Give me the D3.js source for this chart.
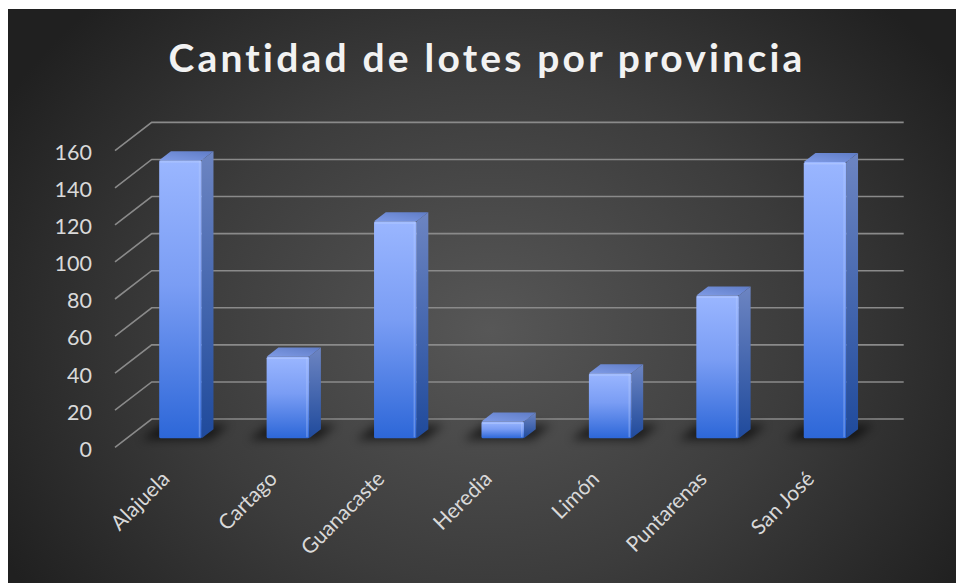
<!DOCTYPE html>
<html>
<head>
<meta charset="utf-8">
<script src="https://cdn.jsdelivr.net/npm/d3@7/dist/d3.min.js"></script>
<style>
  html, body { margin: 0; padding: 0; background: #ffffff; }
  svg { display: block; }
</style>
</head>
<body>
<svg id="chart" width="956" height="583"></svg>
<script>
// Lots per province
const provinces = ["Alajuela", "Cartago", "Guanacaste", "Heredia", "Limón", "Puntarenas", "San José"];
const lots = [150, 44, 117, 9, 35, 77, 149];
const yTicks = [0, 20, 40, 60, 80, 100, 120, 140, 160];
const chartTitle = "Cantidad de lotes por provincia";

const W = 956, H = 583;
const svg = d3.select("#chart");
const defs = svg.append("defs");

// ---- background panel with radial shading
const bg = defs.append("radialGradient").attr("id", "bgGrad")
  .attr("gradientUnits", "userSpaceOnUse")
  .attr("cx", 490).attr("cy", 330).attr("r", 560)
  .attr("gradientTransform", "translate(490,330) scale(1,0.82) translate(-490,-330)");
bg.append("stop").attr("offset", 0).attr("stop-color", "#575757");
bg.append("stop").attr("offset", 0.55).attr("stop-color", "#3c3c3c");
bg.append("stop").attr("offset", 1).attr("stop-color", "#202020");
svg.append("rect").attr("x", 8).attr("y", 9).attr("width", W - 8).attr("height", H - 9)
  .attr("fill", "url(#bgGrad)");

// ---- bar face gradients
function vGrad(id, stops) {
  const g = defs.append("linearGradient").attr("id", id)
    .attr("x1", 0).attr("y1", 0).attr("x2", 0).attr("y2", 1);
  stops.forEach(([o, c]) => g.append("stop").attr("offset", o).attr("stop-color", c));
}
vGrad("frontGrad", [[0, "#9ab6ff"], [0.45, "#7a9df4"], [1, "#2d67d8"]]);
vGrad("sideGrad", [[0, "#6d85c2"], [1, "#1f4a9c"]]);
const topGrad = defs.append("linearGradient").attr("id", "topGrad")
  .attr("x1", 0).attr("y1", 1).attr("x2", 1).attr("y2", 0);
topGrad.append("stop").attr("offset", 0).attr("stop-color", "#7f9be6");
topGrad.append("stop").attr("offset", 1).attr("stop-color", "#5f7cc6");

defs.append("filter").attr("id", "shadowBlur")
  .attr("x", "-50%").attr("y", "-100%").attr("width", "200%").attr("height", "300%")
  .append("feGaussianBlur").attr("stdDeviation", 5);

// ---- oblique 3D projection: front plane scales plus a depth offset
const frontLeft = 115, frontRight = 867;
const depthDX = 36.7, depthDY = -28.3;

const x = d3.scaleBand().domain(provinces).range([frontLeft, frontRight]).padding(0);
const y = d3.scaleLinear().domain([0, 160]).range([447.3, 150.7]);

const proj = (px, value, z) => [px + z * depthDX, y(value) + z * depthDY];
const poly = pts => "M" + pts.map(p => p.join(",")).join("L") + "Z";

// ---- gridlines: back wall horizontals and side diagonals
const grid = svg.append("g").attr("stroke", "#8a8a8a").attr("stroke-width", 1.6).attr("fill", "none");
yTicks.forEach(t => {
  const a = proj(frontLeft, t, 0), b = proj(frontLeft, t, 1), c = proj(frontRight, t, 1);
  grid.append("path").attr("d", `M${a}L${b}L${c}`);
});

// ---- y axis labels
const yAxis = d3.axisLeft(y).tickValues(yTicks).tickSize(0).tickPadding(0);
svg.append("g").attr("transform", "translate(92,2)").call(yAxis)
  .call(g => g.select(".domain").remove())
  .selectAll("text")
  .attr("fill", "#d9d9d9").attr("font-family", "Lato, 'Open Sans', sans-serif").attr("font-size", 21.5);

// ---- bars
const barFrac = 0.396, z0 = 0.32, z1 = 0.64;
const bars = svg.append("g");
provinces.forEach((p, i) => {
  const v = lots[i];
  const bw = x.bandwidth() * barFrac;
  const xl = x(p) + (x.bandwidth() - bw) / 2, xr = xl + bw;
  const g = bars.append("g");

  // soft shadow on the floor
  g.append("path")
    .attr("d", poly([proj(xl - 16, 0, z0 - 0.05), proj(xr + 10, 0, z0 - 0.05),
                     proj(xr + 10, 0, z1 + 0.15), proj(xl - 16, 0, z1 + 0.15)]))
    .attr("fill", "#000").attr("opacity", 0.6).attr("filter", "url(#shadowBlur)");

  // side face
  g.append("path")
    .attr("d", poly([proj(xr, 0, z0), proj(xr, 0, z1), proj(xr, v, z1), proj(xr, v, z0)]))
    .attr("fill", "url(#sideGrad)");
  // top face
  g.append("path")
    .attr("d", poly([proj(xl, v, z0), proj(xr, v, z0), proj(xr, v, z1), proj(xl, v, z1)]))
    .attr("fill", "url(#topGrad)");
  // front face
  const [fx0, fy0] = proj(xl, v, z0);
  const [fx1, fy1] = proj(xr, 0, z0);
  g.append("rect").attr("x", fx0).attr("y", fy0).attr("width", fx1 - fx0).attr("height", fy1 - fy0)
    .attr("rx", 1.5).attr("fill", "url(#frontGrad)");
  // bevel highlight along the front edges
  g.append("rect").attr("x", fx1 - 3).attr("y", fy0 + 1).attr("width", 1.6).attr("height", Math.max(0, fy1 - fy0 - 2))
    .attr("fill", "#b9cdff").attr("opacity", 0.35);
  g.append("rect").attr("x", fx0 + 1).attr("y", fy0 + 1).attr("width", fx1 - fx0 - 2).attr("height", 1.4)
    .attr("fill", "#c4d4ff").attr("opacity", 0.4);
});

// ---- category labels
const xAxis = d3.axisBottom(x).tickSize(0).tickPadding(0);
svg.append("g").call(xAxis)
  .call(g => g.select(".domain").remove())
  .call(g => g.selectAll(".tick").attr("transform", d => `translate(${x(d) + x.bandwidth() / 2 - 3},475)`))
  .selectAll("text")
  .attr("fill", "#d9d9d9").attr("font-family", "Lato, 'Open Sans', sans-serif").attr("font-size", 21)
  .attr("text-anchor", "end").attr("dy", "0.35em").attr("y", 0)
  .attr("transform", "rotate(-45)");

// ---- title
svg.append("text").attr("x", 487).attr("y", 72)
  .attr("text-anchor", "middle")
  .attr("fill", "#f2f2f2").attr("font-family", "Lato, 'Open Sans', sans-serif")
  .attr("font-weight", "bold").attr("font-size", 39).attr("letter-spacing", 3.2)
  .text(chartTitle);
</script>
</body>
</html>
